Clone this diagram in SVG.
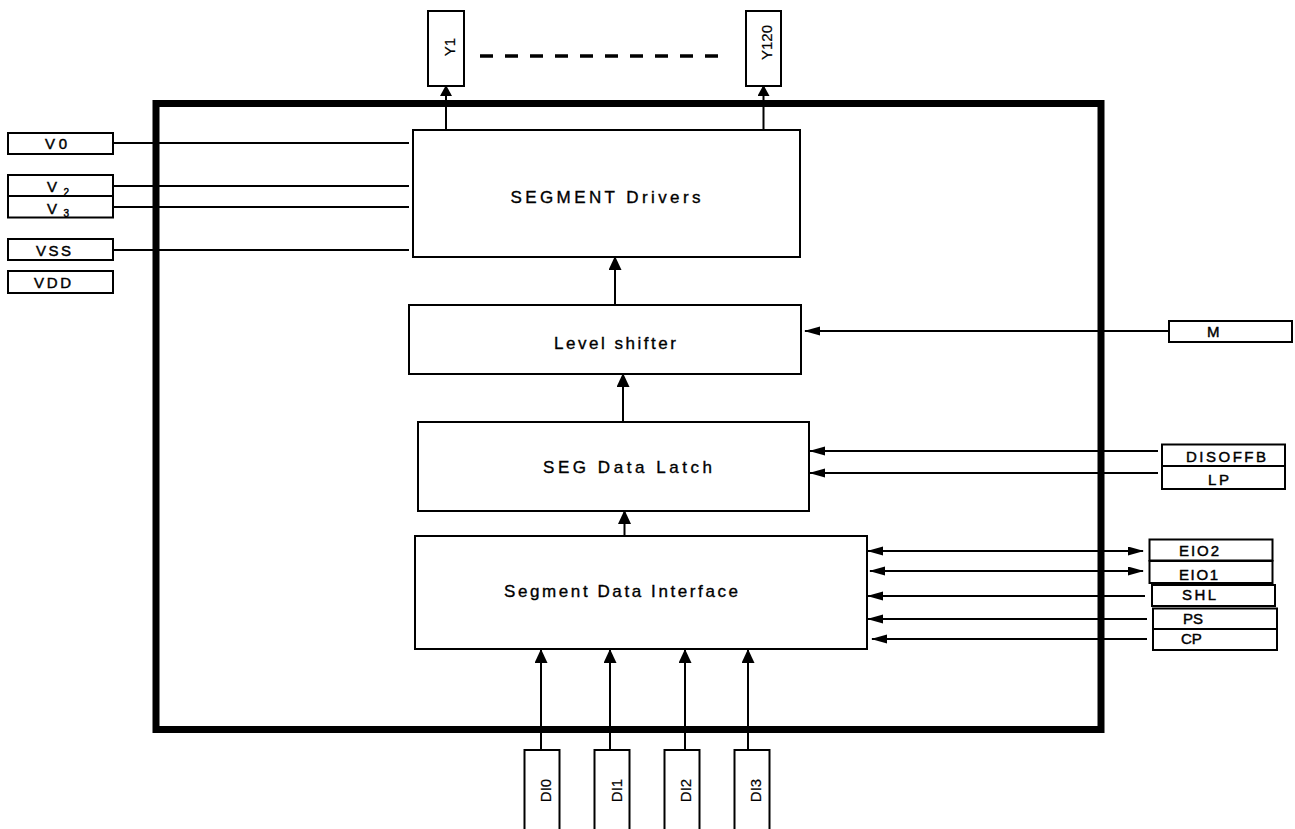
<svg xmlns="http://www.w3.org/2000/svg" width="1295" height="829" viewBox="0 0 1295 829">
<style>
  .box { fill: #fff; stroke: #000; stroke-width: 2; }
  .pin { fill: #fff; stroke: #000; stroke-width: 2; }
  .ln { fill: none; stroke: #000; stroke-width: 2; }
  .blk { font-family: "Liberation Sans", Arial, sans-serif; font-size: 17px; fill: #000; stroke: #000; stroke-width: 0.35; }
  .lbl { font-family: "Liberation Sans", Arial, sans-serif; font-size: 15px; fill: #000; stroke: #000; stroke-width: 0.45; }
  .rot { font-family: "Liberation Sans", Arial, sans-serif; font-size: 15px; fill: #000; text-anchor: middle; stroke: #000; stroke-width: 0.2; }
  .sub { font-size: 10px; }
</style>
<defs>
  <marker id="ah" markerUnits="userSpaceOnUse" markerWidth="17" markerHeight="10" refX="15" refY="4.5" orient="auto-start-reverse">
    <path d="M0,0 L16,4.5 L0,9 z" fill="#000"/>
  </marker>
  <marker id="av" markerUnits="userSpaceOnUse" markerWidth="15" markerHeight="13" refX="13" refY="6.5" orient="auto-start-reverse">
    <path d="M0,0 L14,6.5 L0,13 z" fill="#000"/>
  </marker>
  <marker id="avs" markerUnits="userSpaceOnUse" markerWidth="12" markerHeight="13" refX="10" refY="6" orient="auto">
    <path d="M0,0 L11,6 L0,12 z" fill="#000"/>
  </marker>
</defs>

<!-- chip outline -->
<rect id="chip" x="156" y="103.5" width="945" height="626" fill="none" stroke="#000" stroke-width="7"/>

<g id="connectors">
  <!-- left supply lines -->
  <line class="ln" x1="113" y1="143" x2="409" y2="143"/>
  <line class="ln" x1="113" y1="186" x2="409" y2="186"/>
  <line class="ln" x1="113" y1="207" x2="409" y2="207"/>
  <line class="ln" x1="113" y1="250" x2="409" y2="250"/>
  <!-- outputs -->
  <line class="ln" x1="446" y1="130" x2="446" y2="86" marker-end="url(#avs)"/>
  <line class="ln" x1="763.5" y1="130" x2="763.5" y2="86" marker-end="url(#avs)"/>
  <line x1="480" y1="56" x2="720" y2="56" stroke="#000" stroke-width="3.5" stroke-dasharray="13 12"/>
  <!-- internal -->
  <line class="ln" x1="615" y1="305" x2="615" y2="257" marker-end="url(#av)"/>
  <line class="ln" x1="623" y1="422" x2="623" y2="374" marker-end="url(#av)"/>
  <line class="ln" x1="624.5" y1="536" x2="624.5" y2="511" marker-end="url(#av)"/>
  <!-- right inputs -->
  <line class="ln" x1="1169" y1="331" x2="805" y2="331" marker-end="url(#ah)"/>
  <line class="ln" x1="1158" y1="451" x2="810" y2="451" marker-end="url(#ah)"/>
  <line class="ln" x1="1158" y1="473" x2="810" y2="473" marker-end="url(#ah)"/>
  <line class="ln" x1="868" y1="551" x2="1143" y2="551" marker-start="url(#ah)" marker-end="url(#ah)"/>
  <line class="ln" x1="870" y1="571" x2="1143" y2="571" marker-start="url(#ah)" marker-end="url(#ah)"/>
  <line class="ln" x1="1145" y1="596" x2="868" y2="596" marker-end="url(#ah)"/>
  <line class="ln" x1="1147" y1="619" x2="868" y2="619" marker-end="url(#ah)"/>
  <line class="ln" x1="1147" y1="639" x2="872" y2="639" marker-end="url(#ah)"/>
  <!-- data inputs -->
  <line class="ln" x1="541" y1="750" x2="541" y2="650" marker-end="url(#av)"/>
  <line class="ln" x1="610" y1="750" x2="610" y2="650" marker-end="url(#av)"/>
  <line class="ln" x1="685" y1="750" x2="685" y2="650" marker-end="url(#av)"/>
  <line class="ln" x1="748" y1="750" x2="748" y2="650" marker-end="url(#av)"/>
</g>

<!-- blocks -->
<g id="seg-drivers">
  <rect class="box" x="413" y="130" width="387" height="127"/>
  <text class="blk" x="510.5" y="202.5" textLength="190" lengthAdjust="spacing">SEGMENT Drivers</text>
</g>
<g id="level-shifter">
  <rect class="box" x="409" y="305" width="392" height="69"/>
  <text class="blk" x="554" y="348.5" textLength="122" lengthAdjust="spacing">Level shifter</text>
</g>
<g id="seg-latch">
  <rect class="box" x="418" y="422" width="391" height="89"/>
  <text class="blk" x="543" y="472.5" textLength="169" lengthAdjust="spacing">SEG Data Latch</text>
</g>
<g id="seg-interface">
  <rect class="box" x="415" y="536" width="452" height="113"/>
  <text class="blk" x="504" y="597" textLength="234" lengthAdjust="spacing">Segment Data Interface</text>
</g>

<!-- left pins -->
<g id="pin-V0">
  <rect class="pin" x="8" y="133" width="105" height="21"/>
  <text class="lbl" x="45" y="149" textLength="22" lengthAdjust="spacing">V0</text>
</g>
<g id="pin-V2">
  <rect class="pin" x="8" y="175" width="105" height="21"/>
  <text class="lbl" x="47" y="192">V</text>
  <text class="lbl sub" x="63.5" y="195.5">2</text>
</g>
<g id="pin-V3">
  <rect class="pin" x="8" y="196" width="105" height="21.5"/>
  <text class="lbl" x="47" y="213.5">V</text>
  <text class="lbl sub" x="63.5" y="216.5">3</text>
</g>
<g id="pin-VSS">
  <rect class="pin" x="8" y="239" width="105" height="21"/>
  <text class="lbl" x="36" y="256" textLength="35" lengthAdjust="spacing">VSS</text>
</g>
<g id="pin-VDD">
  <rect class="pin" x="8" y="271" width="105" height="22"/>
  <text class="lbl" x="34" y="288" textLength="37" lengthAdjust="spacing">VDD</text>
</g>

<!-- top pins -->
<g id="pin-Y1">
  <rect class="pin" x="428" y="11" width="36" height="75"/>
  <text class="rot" x="455" y="47" transform="rotate(-90 455 47)">Y1</text>
</g>
<g id="pin-Y120">
  <rect class="pin" x="746" y="11" width="35" height="75"/>
  <text class="rot" x="772" y="42.5" transform="rotate(-90 772 42.5)">Y120</text>
</g>

<!-- right pins -->
<g id="pin-M">
  <rect class="pin" x="1169" y="321" width="123" height="21"/>
  <text class="lbl" x="1207" y="337">M</text>
</g>
<g id="pin-DISOFFB">
  <rect class="pin" x="1162" y="444.5" width="123" height="21.5"/>
  <text class="lbl" x="1186" y="462" textLength="80" lengthAdjust="spacing">DISOFFB</text>
</g>
<g id="pin-LP">
  <rect class="pin" x="1162" y="466" width="123" height="23"/>
  <text class="lbl" x="1208" y="485" textLength="21" lengthAdjust="spacing">LP</text>
</g>
<g id="pin-EIO2">
  <rect class="pin" x="1149.5" y="539.5" width="123" height="21"/>
  <text class="lbl" x="1179" y="556" textLength="40" lengthAdjust="spacing">EIO2</text>
</g>
<g id="pin-EIO1">
  <rect class="pin" x="1149.5" y="561" width="123" height="22"/>
  <text class="lbl" x="1179" y="579.5" textLength="39" lengthAdjust="spacing">EIO1</text>
</g>
<g id="pin-SHL">
  <rect class="pin" x="1152" y="585" width="123" height="21"/>
  <text class="lbl" x="1182" y="600" textLength="34" lengthAdjust="spacing">SHL</text>
</g>
<g id="pin-PS">
  <rect class="pin" x="1153" y="608.5" width="124" height="20.5"/>
  <text class="lbl" x="1183" y="623.5">PS</text>
</g>
<g id="pin-CP">
  <rect class="pin" x="1153" y="629" width="124" height="21"/>
  <text class="lbl" x="1181" y="644">CP</text>
</g>

<!-- bottom pins -->
<g id="pin-DI0">
  <rect class="pin" x="524.5" y="750" width="35" height="90"/>
  <text class="rot" x="551" y="790.5" transform="rotate(-90 551 790.5)">DI0</text>
</g>
<g id="pin-DI1">
  <rect class="pin" x="594.5" y="750" width="35" height="90"/>
  <text class="rot" x="621.5" y="790.5" transform="rotate(-90 621.5 790.5)">DI1</text>
</g>
<g id="pin-DI2">
  <rect class="pin" x="664.5" y="750" width="35" height="90"/>
  <text class="rot" x="690.5" y="790.5" transform="rotate(-90 690.5 790.5)">DI2</text>
</g>
<g id="pin-DI3">
  <rect class="pin" x="734.5" y="750" width="35" height="90"/>
  <text class="rot" x="760.5" y="790.5" transform="rotate(-90 760.5 790.5)">DI3</text>
</g>
</svg>
